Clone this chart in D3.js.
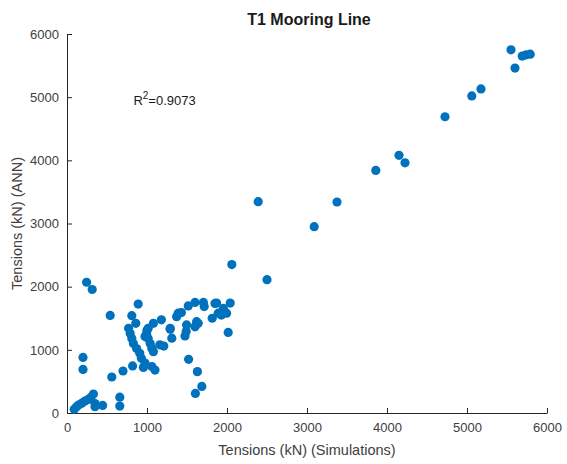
<!DOCTYPE html>
<html>
<head>
<meta charset="utf-8">
<script src="https://cdn.jsdelivr.net/npm/d3@7"></script>
<style>
  body { margin: 0; background: #fff; }
  svg { display: block; font-family: "Liberation Sans", Arial, sans-serif; }
</style>
</head>
<body>
<svg id="chart" width="567" height="464"></svg>
<script>
// ---- Data ----
const chartTitle = "T1 Mooring Line";
const xLabel = "Tensions (kN) (Simulations)";
const yLabel = "Tensions (kN) (ANN)";
const xTicks = [0, 1000, 2000, 3000, 4000, 5000, 6000];
const yTicks = [0, 1000, 2000, 3000, 4000, 5000, 6000];
const r2Value = "0.9073";

const simulations = [
  5550, 5690, 5740, 5790, 5600, 5175, 5060, 4725, 4150, 4225, 3860, 3375, 2390, 3090, 2060, 2500,
  245, 315,
  90, 120, 150, 185, 225, 265, 300, 330, 350, 350, 445, 660, 660, 200, 200, 560, 700, 820, 540,
  890, 810, 860, 770, 790, 810, 830, 870, 910, 930, 975, 955, 1060, 1100, 1080,
  1180, 1080, 1015, 995, 1015, 1040, 1060, 1160, 1290, 1310, 1290, 1370, 1390, 1430, 1515, 1600,
  1705, 1715, 1850, 1870, 1955, 2040, 1995, 1890, 1815, 1620, 1495, 1490, 1475, 1600, 1640, 2015,
  1930, 1520, 1630, 1685, 1605, 975, 1000, 1210
];
const annPredictions = [
  5750, 5650, 5670, 5680, 5460, 5130, 5020, 4690, 4080, 3960, 3840, 3340, 3345, 2950, 2350, 2110,
  2070, 1955,
  60, 100, 130, 155, 190, 215, 250, 300, 150, 100, 120, 250, 110, 880, 690, 570, 665, 745, 1545,
  1725, 1540, 1420, 1340, 1260, 1180, 1100, 1020, 945, 865, 790, 720, 735, 680, 970,
  1475, 1420, 1340, 1260, 1180, 1100, 1025, 1080, 1340, 1185, 1325, 1525, 1580, 1590, 1695, 1750,
  1750, 1685, 1735, 1740, 1655, 1740, 1580, 1580, 1500, 1445, 1395, 1290, 1220, 1365, 1420, 1275,
  1550, 850, 655, 420, 310, 1210, 1310, 1060
];

// ---- Layout ----
const svg = d3.select("#chart");
const mLeft = 67, mRight = 547, mTop = 34, mBottom = 413;
const axisColor = "#262626";
const dotColor = "#0072BD";

const x = d3.scaleLinear().domain([0, 6000]).range([mLeft, mRight]);
const y = d3.scaleLinear().domain([0, 6000]).range([mBottom, mTop]);
const fmt = d3.format("d");

// X axis
const xAxis = svg.append("g")
  .attr("transform", `translate(0,${mBottom})`)
  .call(d3.axisBottom(x).tickValues(xTicks).tickFormat(fmt).tickSizeInner(-5).tickSizeOuter(0).tickPadding(10));
// Y axis
const yAxis = svg.append("g")
  .attr("transform", `translate(${mLeft},0)`)
  .call(d3.axisLeft(y).tickValues(yTicks).tickFormat(fmt).tickSizeInner(-5).tickSizeOuter(0).tickPadding(8));

[xAxis, yAxis].forEach(g => {
  g.select(".domain").attr("stroke", axisColor).attr("stroke-width", 1);
  g.selectAll(".tick line").attr("stroke", axisColor);
  g.selectAll(".tick text")
    .attr("fill", "#404040")
    .style("font-family", "'Liberation Sans', Arial, sans-serif")
    .style("font-size", "13px");
});

// Points
const points = simulations.map((s, i) => ({ s, a: annPredictions[i] }));
svg.append("g").selectAll("circle")
  .data(points)
  .enter().append("circle")
  .attr("cx", d => x(d.s))
  .attr("cy", d => y(d.a))
  .attr("r", 4.6)
  .attr("fill", dotColor);

// Title
svg.append("text")
  .attr("x", 309)
  .attr("y", 25)
  .attr("text-anchor", "middle")
  .attr("font-weight", "bold")
  .attr("font-size", "16px")
  .attr("fill", "#1a1a1a")
  .text(chartTitle);

// X label
svg.append("text")
  .attr("x", (mLeft + mRight) / 2)
  .attr("y", 455)
  .attr("text-anchor", "middle")
  .attr("font-size", "14.5px")
  .attr("fill", "#404040")
  .text(xLabel);

// Y label
svg.append("text")
  .attr("transform", `translate(22,${(mTop + mBottom) / 2}) rotate(-90)`)
  .attr("text-anchor", "middle")
  .attr("font-size", "14.5px")
  .attr("fill", "#404040")
  .text(yLabel);

// R^2 annotation
const r2 = svg.append("text")
  .attr("x", x(830))
  .attr("y", y(4880))
  .attr("font-size", "13px")
  .attr("fill", "#1a1a1a");
r2.append("tspan").text("R");
r2.append("tspan").attr("dy", -6).attr("font-size", "10px").text("2");
r2.append("tspan").attr("dy", 6).text("=" + r2Value);
</script>
</body>
</html>
